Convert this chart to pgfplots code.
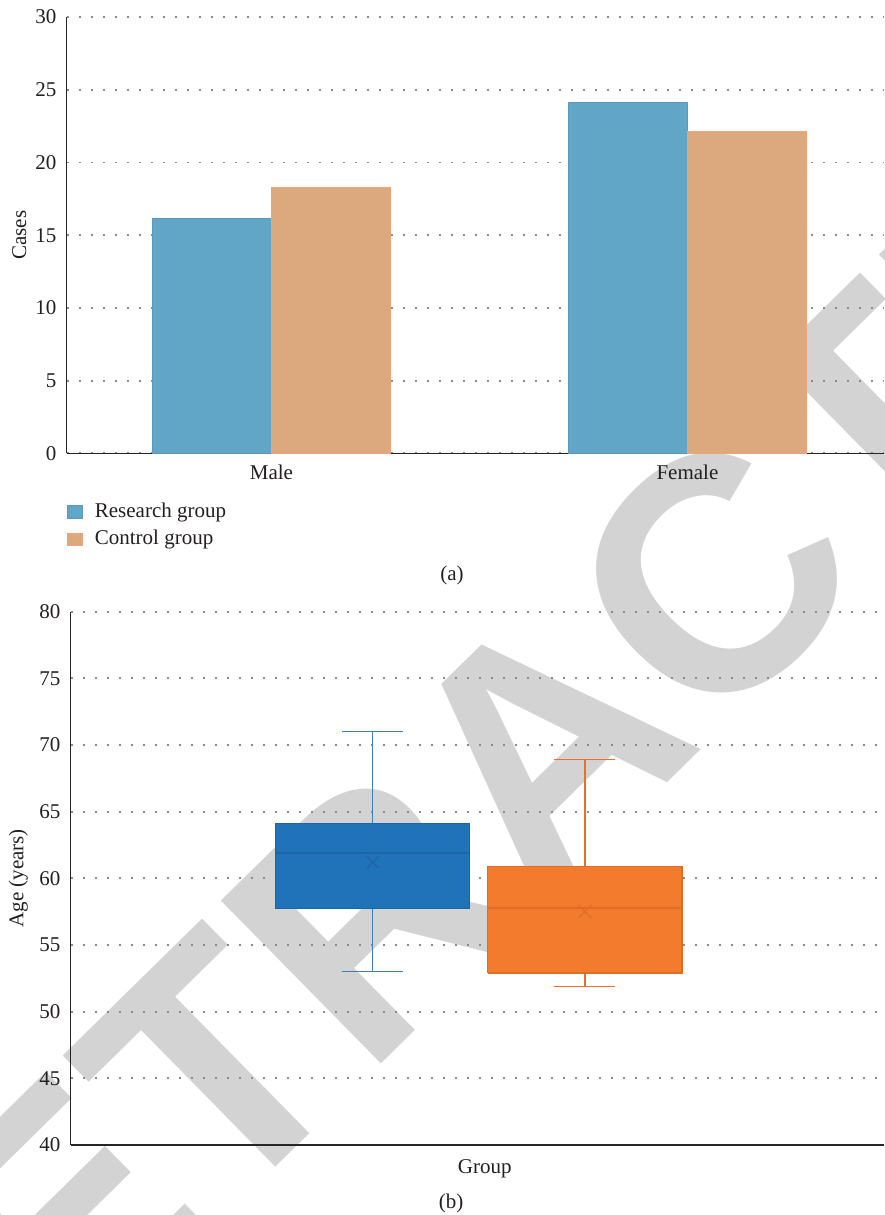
\documentclass[border=0pt]{standalone}
\usepackage{fontspec}
\setmainfont{Liberation Serif}
\newfontfamily\wmfont{Liberation Sans}
\usepackage{pgfplots}
\pgfplotsset{compat=1.18}

\definecolor{resblue}{HTML}{61A5C7}
\definecolor{resblueedge}{HTML}{5A98BF}
\definecolor{conorange}{HTML}{DCA87D}
\definecolor{conorangeedge}{HTML}{F0A27C}
\definecolor{boxblue}{HTML}{2072B9}
\definecolor{boxblueline}{HTML}{1C64A8}
\definecolor{whiskblue}{HTML}{3C7EC0}
\definecolor{boxorange}{HTML}{F37B2D}
\definecolor{boxorangeline}{HTML}{DE6D27}
\definecolor{whiskorange}{HTML}{E8702F}
\definecolor{wm}{HTML}{D3D3D3}
\definecolor{txt}{HTML}{231F20}

\newcommand\chartfont{\fontsize{10.5}{12.6}\selectfont}

\pgfplotsset{
  panel/.style={
    scale only axis,
    axis lines*=left,
    axis line style={black!85, line width=0.75pt},
    major tick length=0pt,
    ymajorgrids,
    grid style={line width=0.9pt, black!45, dash pattern=on 0.9pt off 5.1pt},
    tick label style={font=\chartfont, text=txt},
    label style={font=\chartfont, text=txt},
    /pgf/number format/assume math mode=true,
    yticklabel style={inner sep=0pt, xshift=-5pt},
    xticklabel style={inner sep=0pt, yshift=-5.65pt},
  },
  % pieces of a box plot
  boxfill/.style={draw=#1line, fill=#1, line width=0.6pt},
  boxmed/.style={draw=#1line, line width=0.9pt},
  boxwhisk/.style={draw=whisk#1, line width=0.75pt},
}

\begin{document}
\begin{tikzpicture}
\useasboundingbox (0,0) rectangle (442pt,-607.5pt);

% watermark behind the charts
\node[rotate=44.5, text=wm, inner sep=0pt,
      font=\wmfont\bfseries\fontsize{166}{166}\selectfont]
  at (271pt,-373pt) {RETRACTED};

% (a) sex distribution
\begin{axis}[panel,
  at={(33.35pt,-226.65pt)}, anchor=south west,
  width=408.65pt, height=218.1pt,
  xmin=-0.4923, xmax=1.4726,
  ymin=0, ymax=30, ytick={0,5,...,30},
  xtick={0,1}, xticklabels={Male,Female},
  ybar=0pt, bar width=0.286,
  ylabel={Cases},
  ylabel style={at={(rel axis cs:-0.0581,0.5)}, anchor=center},
  legend style={at={(rel axis cs:0,-0.112)}, anchor=north west,
    draw=none, fill=none, inner sep=0pt, row sep=4.6pt,
    font=\chartfont, text=txt,
    nodes={inner sep=0pt, text depth=0.2em}},
  legend cell align=left,
  legend image code/.code={
    \fill[#1] (0pt,-3.1pt) rectangle (7.5pt,3.2pt);
    \path (13.5pt,0pt);},
]
\addplot[fill=resblue, draw=resblueedge, line width=0.4pt]
  coordinates {(0,16.15) (1,24.15)};
\addplot[fill=conorange, draw=conorangeedge, line width=0.4pt]
  coordinates {(0,18.3) (1,22.15)};
\legend{Research group, Control group}
\end{axis}

\node[font=\chartfont, text=txt] at (226pt,-287.5pt) {(a)};

% (b) age distribution, box plots
% research group: whiskers 53-71, box 57.75-64.1, median 61.9, mean 61.2
% control group:  whiskers 51.9-68.9, box 52.9-60.9, median 57.8, mean 57.5
\begin{axis}[panel,
  at={(35.35pt,-572.5pt)}, anchor=south west,
  width=406.65pt, height=266.65pt,
  xmin=-0.421, xmax=3.408,
  ymin=40, ymax=80, ytick={40,45,...,80},
  xtick=\empty,
  xlabel={Group},
  xlabel style={at={(rel axis cs:0.509,0)}, anchor=north, inner sep=0pt, yshift=-7pt},
  ylabel={Age (years)},
  ylabel style={at={(rel axis cs:-0.0644,0.5)}, anchor=center},
]
% research group
\addplot[boxwhisk=blue] coordinates {(1,64.1) (1,71)};
\addplot[boxwhisk=blue] coordinates {(0.8565,71) (1.1435,71)};
\addplot[boxwhisk=blue] coordinates {(1,57.75) (1,53)};
\addplot[boxwhisk=blue] coordinates {(0.8565,53) (1.1435,53)};
\addplot[boxfill=boxblue] coordinates
  {(0.543,57.75) (1.457,57.75) (1.457,64.1) (0.543,64.1) (0.543,57.75)};
\addplot[boxmed=boxblue] coordinates {(0.543,61.9) (1.457,61.9)};
\addplot[only marks, mark=x, mark size=4.5pt, draw=boxblueline, line width=0.6pt]
  coordinates {(1,61.2)};
% control group
\addplot[boxwhisk=orange] coordinates {(2,60.9) (2,68.9)};
\addplot[boxwhisk=orange] coordinates {(1.8565,68.9) (2.1435,68.9)};
\addplot[boxwhisk=orange] coordinates {(2,52.9) (2,51.9)};
\addplot[boxwhisk=orange] coordinates {(1.8565,51.9) (2.1435,51.9)};
\addplot[boxfill=boxorange] coordinates
  {(1.543,52.9) (2.457,52.9) (2.457,60.9) (1.543,60.9) (1.543,52.9)};
\addplot[boxmed=boxorange] coordinates {(1.543,57.8) (2.457,57.8)};
\addplot[only marks, mark=x, mark size=4.5pt, draw=boxorangeline, line width=0.6pt]
  coordinates {(2,57.5)};
\end{axis}

\node[font=\chartfont, text=txt] at (225.5pt,-601.5pt) {(b)};
\end{tikzpicture}
\end{document}
